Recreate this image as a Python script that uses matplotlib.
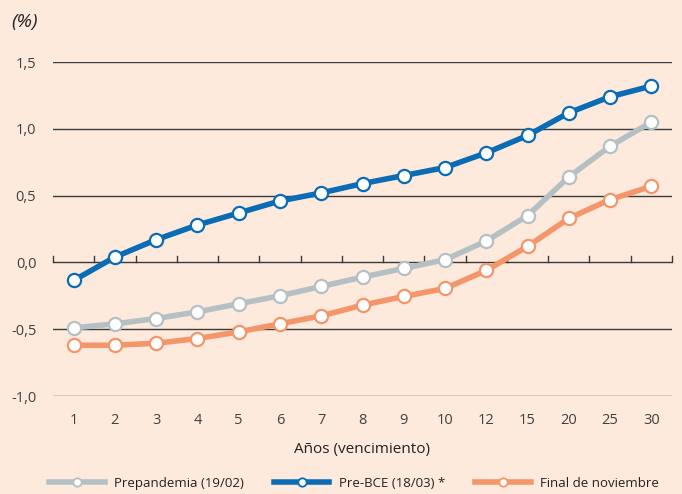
import matplotlib
matplotlib.use("Agg")
import matplotlib.pyplot as plt
from matplotlib.lines import Line2D

categories = ["1", "2", "3", "4", "5", "6", "7", "8", "9", "10", "12", "15", "20", "25", "30"]
prepandemia = [-0.49, -0.46, -0.42, -0.37, -0.31, -0.25, -0.18, -0.11, -0.045, 0.02, 0.16, 0.35, 0.64, 0.87, 1.05]
pre_bce = [-0.135, 0.04, 0.17, 0.28, 0.37, 0.46, 0.52, 0.59, 0.65, 0.71, 0.82, 0.95, 1.12, 1.24, 1.32]
final_nov = [-0.62, -0.62, -0.605, -0.57, -0.52, -0.46, -0.40, -0.32, -0.255, -0.195, -0.06, 0.12, 0.33, 0.47, 0.57]
series_names = ["Prepandemia (19/02)", "Pre-BCE (18/03) *", "Final de noviembre"]
y_ticks = [-1.0, -0.5, 0.0, 0.5, 1.0, 1.5]
y_labels = ["-1,0", "-0,5", "0,0", "0,5", "1,0", "1,5"]

colors = ["#b5c0c4", "#0a6cb4", "#f4956a"]
bg = "#fdeadc"

plt.rcParams['font.family'] = ['Open Sans', 'DejaVu Sans']

fig = plt.figure(figsize=(6.82, 4.94), dpi=100, facecolor=bg)
ax = fig.add_axes([53/682, 1-396/494, 619/682, 334/494], facecolor=bg)

x = list(range(len(categories)))
for vals, c in zip([prepandemia, pre_bce, final_nov], colors):
    ax.plot(x, vals, color=c, lw=4.0, marker='o', ms=9.5, mfc='white',
            mec=c, mew=1.6, clip_on=False, zorder=3, solid_capstyle='butt')

ax.set_xlim(-0.5, len(categories) - 0.5)
ax.set_ylim(-1.0, 1.5)
for yv in y_ticks:
    ax.axhline(yv, color='#3a3a3a', lw=1.0, zorder=1)
# small upward ticks on zero line
for k in range(len(categories) + 1):
    ax.plot([k - 0.5, k - 0.5], [0, 0.045], color='#3a3a3a', lw=1.0, zorder=1, clip_on=False)

for s in ax.spines.values():
    s.set_visible(False)
ax.set_yticks(y_ticks)
ax.set_yticklabels(y_labels)
ax.set_xticks(x)
ax.set_xticklabels(categories)
ax.tick_params(axis='both', length=0, labelsize=10.5, labelcolor='#404040')
ax.tick_params(axis='y', pad=12)
ax.tick_params(axis='x', pad=12)

ax.set_xlabel("Años (vencimiento)", fontsize=11, color='#222222', labelpad=10)
fig.text(11/682, 1-22/494, "(%)", fontsize=14, style='italic', color='#222222', va='center')

handles = [Line2D([0], [0], color=c, lw=4.0, marker='o', ms=6, mfc='white', mec=c, mew=1.3)
           for c in colors]
fig.legend(handles, series_names, loc='center', bbox_to_anchor=(354/682, 1-483/494), ncol=3,
           frameon=False, fontsize=9.5, handlelength=4.2, columnspacing=2.3, handletextpad=0.7,
           labelcolor='#222222')

fig.savefig("out.png", dpi=100, facecolor=bg)
